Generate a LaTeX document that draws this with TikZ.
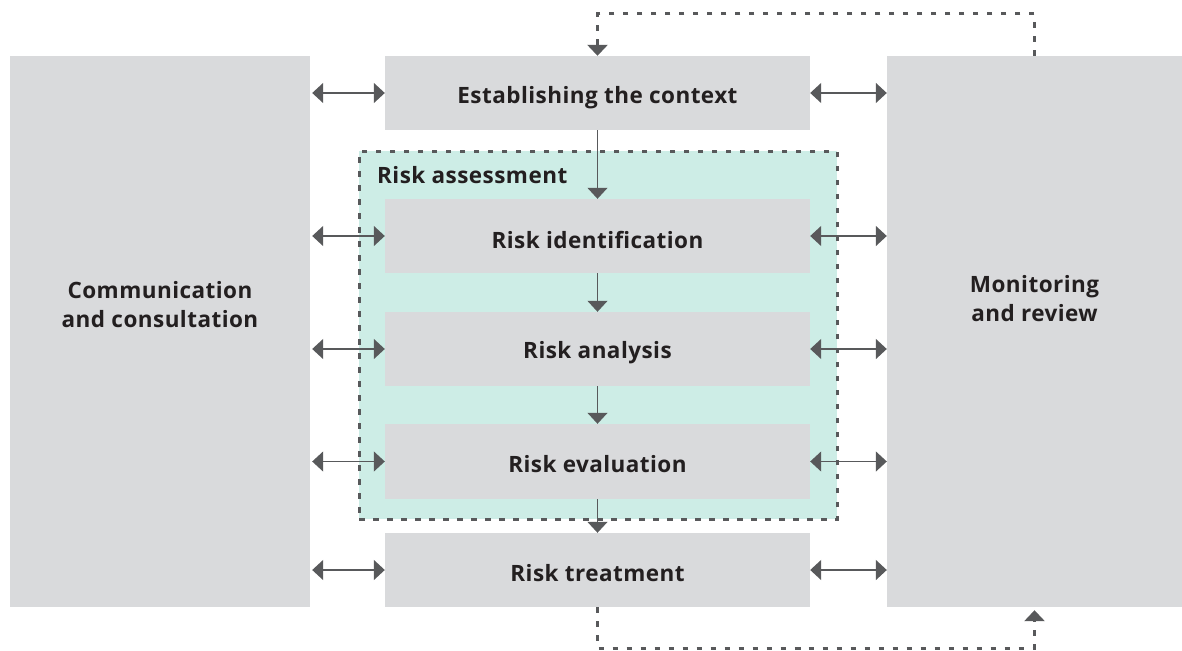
\documentclass[tikz,border=0pt]{standalone}
\usepackage{fontspec}
\setmainfont{Open Sans}[LetterSpace=2.0]
\usetikzlibrary{arrows.meta}
\definecolor{boxgray}{HTML}{D9DADC}
\definecolor{arrgray}{HTML}{58595B}
\definecolor{assessfill}{HTML}{CDEDE6}
\definecolor{txtcol}{HTML}{231F20}
\tikzset{
  box/.style={fill=boxgray, draw=none, inner sep=0pt, minimum width=425pt, minimum height=74pt},
  sidebox/.style={fill=boxgray, draw=none, inner sep=0pt, minimum height=551pt},
  lbl/.style={text=txtcol, font=\bfseries\fontsize{22.5}{29}\selectfont, align=center, inner sep=0pt},
  tri/.tip={Triangle[width=20pt,length=11pt]},
  conn/.style={draw=arrgray, line width=1.4pt, -tri},
  biconn/.style={draw=arrgray, line width=1.4pt, tri-tri},
  feedback/.style={draw=arrgray, line width=3pt, dash pattern=on 5.5pt off 8.5pt, -tri},
  assessbox/.style={fill=assessfill, draw=arrgray, line width=3pt, dash pattern=on 5.5pt off 8.5pt, inner sep=0pt, minimum width=478pt, minimum height=368pt}
}
\begin{document}
\begin{tikzpicture}[x=1pt,y=-1pt]
\useasboundingbox (0,0) rectangle (1182,650);

% background group
\node[assessbox] (assess) at (598,335) {};
\node[lbl, anchor=west] (assesslbl) at (377,175) {Risk assessment};

% side boxes
\node[sidebox, minimum width=300pt] (comm) at (160,331.5) {};
\node[lbl] (commlbl) at (160,305) {Communication\\and consultation};
\node[sidebox, minimum width=295pt] (mon) at (1034.5,331.5) {};
\node[lbl] (monlbl) at (1034.5,299) {Monitoring\\and review};

% middle boxes
\node[box] (est) at (597.5,93) {};
\node[lbl] (estlbl) at (597.5,97.5) {Establishing the context};
\node[box] (ident) at (597.5,236) {};
\node[lbl] (identlbl) at (597.5,240) {Risk identification};
\node[box] (anal) at (597.5,349) {};
\node[lbl] (anallbl) at (597.5,352.5) {Risk analysis};
\node[box, minimum height=75pt] (eval) at (597.5,461.5) {};
\node[lbl] (evallbl) at (597.5,464.5) {Risk evaluation};
\node[box] (treat) at (597.5,570) {};
\node[lbl] (treatlbl) at (597.5,573.5) {Risk treatment};

% vertical flow
\draw[conn] (est) -- (ident);
\draw[conn] (ident) -- (anal);
\draw[conn] (anal) -- (eval);
\draw[conn] (eval) -- (treat);

% side connectors
\foreach \n in {est,ident,anal,eval,treat}{
  \draw[biconn] (comm.east |- \n.west) ++(2,0) -- (\n.west);
  \draw[biconn] (\n.east) -- (mon.west |- \n.east);
}

% feedback loops
\coordinate (ftop) at (800,14);
\coordinate (fbot) at (800,648);
\draw[feedback] (mon.north) |- (ftop) -| (est.north);
\draw[feedback, shorten >=3pt] (treat.south) |- (fbot) -| (mon.south);
\end{tikzpicture}
\end{document}
